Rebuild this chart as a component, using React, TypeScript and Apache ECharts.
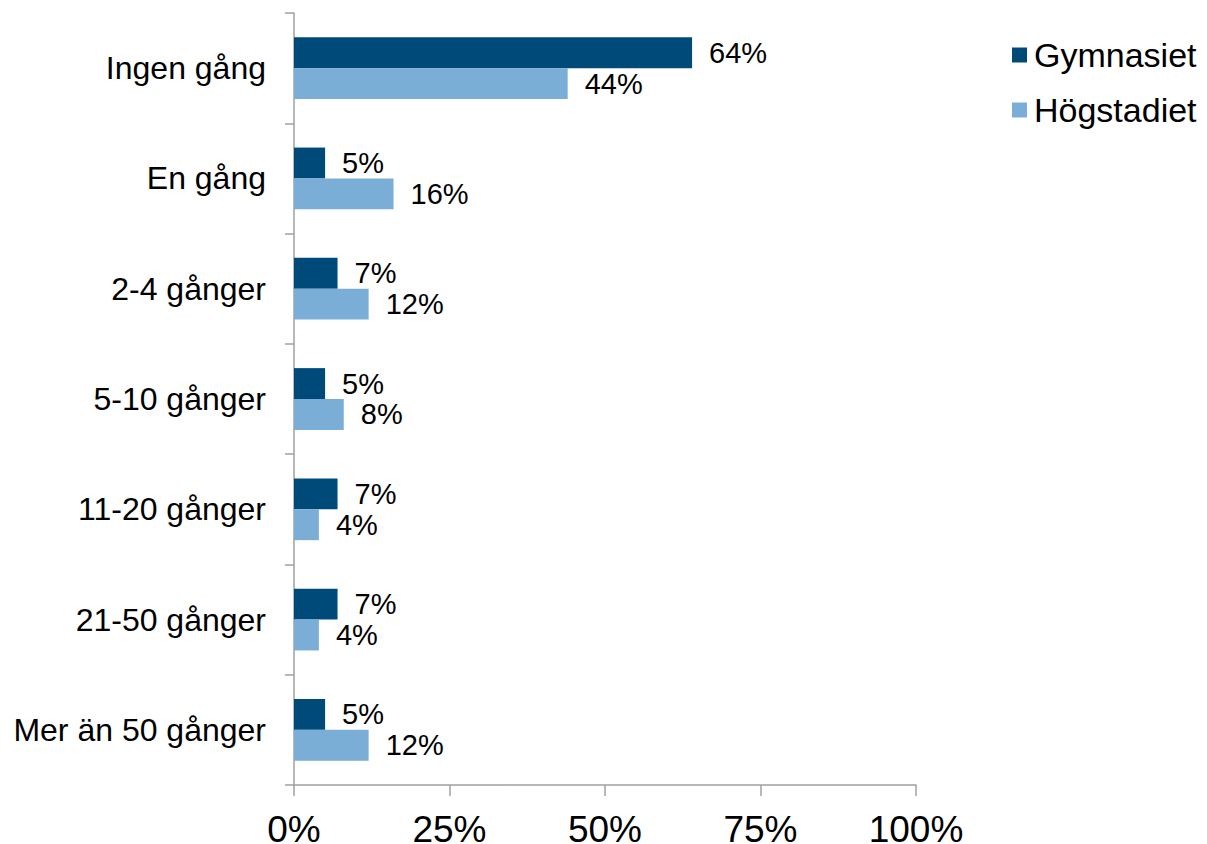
import React, { useEffect, useRef } from "react";
import * as echarts from "echarts";

const categories = [
  "Ingen gång",
  "En gång",
  "2-4 gånger",
  "5-10 gånger",
  "11-20 gånger",
  "21-50 gånger",
  "Mer än 50 gånger",
];
const gymnasiet = [64, 5, 7, 5, 7, 7, 5];
const hogstadiet = [44, 16, 12, 8, 4, 4, 12];
const xTicks = [0, 25, 50, 75, 100];

const FONT = "'Liberation Sans', Arial, sans-serif";

export default function App() {
  const ref = useRef<HTMLDivElement>(null);
  useEffect(() => {
    document.body.style.margin = "0";
    document.body.style.overflow = "hidden";
    document.documentElement.style.overflow = "hidden";
    const chart = echarts.init(ref.current!, null, { renderer: "svg" });
    const labelCfg = {
      show: true,
      position: "right",
      distance: 17,
      color: "#000",
      fontSize: 29,
      fontFamily: FONT,
      formatter: (p: any) => p.value + "%",
    };
    chart.setOption({
      animation: false,
      backgroundColor: "#fff",
      grid: {
        left: 294,
        right: 291,
        top: 13,
        bottom: 59,
        containLabel: false,
        outerBoundsMode: "none",
      },
      legend: {
        orient: "vertical",
        left: 1007,
        top: 33,
        itemWidth: 15,
        itemHeight: 15,
        itemGap: 21,
        icon: "rect",
        textStyle: { fontSize: 34, color: "#000", fontFamily: FONT, padding: [0, 0, 0, 2] },
        data: ["Gymnasiet", "Högstadiet"],
      },
      xAxis: {
        type: "value",
        min: xTicks[0],
        max: xTicks[xTicks.length - 1],
        interval: 25,
        axisLine: { show: true, lineStyle: { color: "#a0a0a0", width: 1.5 } },
        axisTick: { show: true, length: 11, lineStyle: { color: "#a0a0a0", width: 1.5 } },
        splitLine: { show: false },
        axisLabel: {
          fontSize: 37,
          lineHeight: 37,
          color: "#000",
          fontFamily: FONT,
          margin: 26,
          formatter: (v: number) => v + "%",
        },
      },
      yAxis: {
        type: "category",
        inverse: true,
        data: categories,
        axisLine: { show: true, lineStyle: { color: "#a0a0a0", width: 1.5 } },
        axisTick: { show: true, length: 9, lineStyle: { color: "#a0a0a0", width: 1.5 } },
        axisLabel: { fontSize: 32, color: "#000", fontFamily: FONT, margin: 28 },
      },
      series: [
        {
          name: "Gymnasiet",
          type: "bar",
          data: gymnasiet,
          barGap: "0%",
          barCategoryGap: "44%",
          itemStyle: { color: "#004a7a" },
          label: labelCfg,
        },
        {
          name: "Högstadiet",
          type: "bar",
          data: hogstadiet,
          barGap: "0%",
          barCategoryGap: "44%",
          itemStyle: { color: "#7aaed6" },
          label: labelCfg,
        },
      ],
    });
    return () => chart.dispose();
  }, []);
  return (
    <div style={{ width: 1207, height: 844, overflow: "hidden", position: "relative" }}>
      <div ref={ref} style={{ width: 1207, height: 844 }} />
    </div>
  );
}
